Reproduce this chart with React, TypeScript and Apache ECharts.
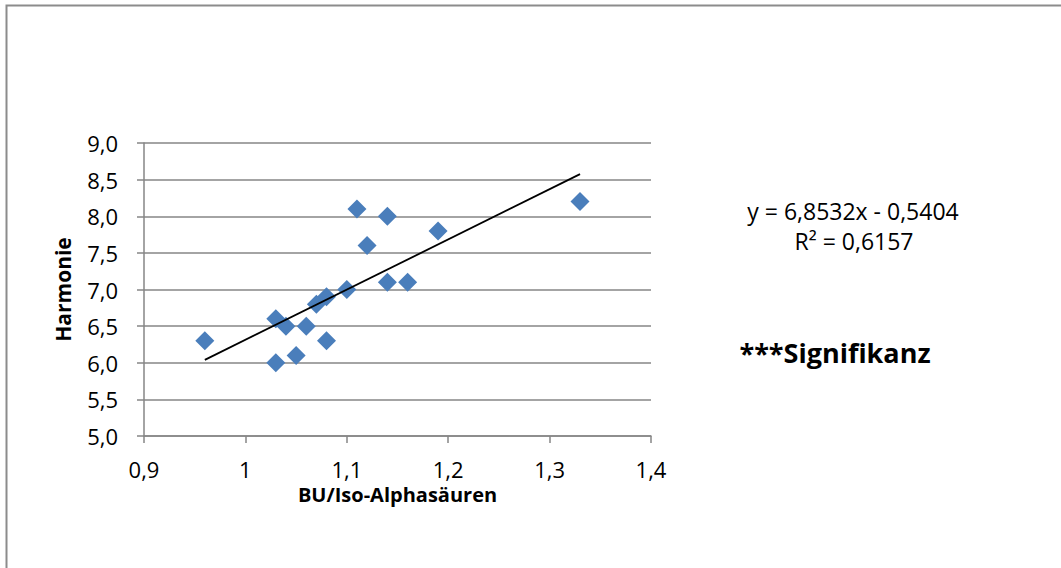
import React, { useEffect, useRef } from "react";
import * as echarts from "echarts";

const buIso: number[] = [0.96, 1.03, 1.04, 1.03, 1.05, 1.06, 1.07, 1.08, 1.08, 1.1, 1.11, 1.12, 1.14, 1.14, 1.16, 1.19, 1.33];
const harmonie: number[] = [6.3, 6.6, 6.5, 6.0, 6.1, 6.5, 6.8, 6.9, 6.3, 7.0, 8.1, 7.6, 8.0, 7.1, 7.1, 7.8, 8.2];
const slope = 6.8532;
const intercept = -0.5404;
const trendX: number[] = [0.96, 1.33];
const equationText = "y = 6,8532x - 0,5404";
const r2Text = "R² = 0,6157";
const noteText = "***Signifikanz";
const xTitle = "BU/Iso-Alphasäuren";
const yTitle = "Harmonie";

const FONT = "'Open Sans', 'Noto Sans', sans-serif";

export default function App() {
  const ref = useRef<HTMLDivElement>(null);
  useEffect(() => {
    document.body.style.margin = "0";
    const chart = echarts.init(ref.current!, null, { renderer: "svg" });
    const points = buIso.map((x, i) => [x, harmonie[i]]);
    const trend = trendX.map((x) => [x, slope * x + intercept]);
    chart.setOption({
      animation: false,
      backgroundColor: "#ffffff",
      textStyle: { fontFamily: FONT },
      grid: { left: 144, top: 143, right: 410, bottom: 132 },
      xAxis: {
        type: "value",
        min: 0.9,
        max: 1.4,
        interval: 0.1,
        name: xTitle,
        nameLocation: "middle",
        nameGap: 46,
        nameTextStyle: { fontFamily: FONT, fontSize: 20, fontWeight: "bold", color: "#000" },
        axisLine: { show: true, lineStyle: { color: "#868686", width: 1.5 } },
        axisTick: { show: true, length: 7, lineStyle: { color: "#868686", width: 1.5 } },
        axisLabel: {
          color: "#000",
          fontSize: 22,
          fontFamily: FONT,
          margin: 22,
          formatter: (v: number) => String(Math.round(v * 10) / 10).replace(".", ","),
        },
        splitLine: { show: false },
      },
      yAxis: {
        type: "value",
        min: 5,
        max: 9,
        interval: 0.5,
        name: yTitle,
        nameLocation: "middle",
        nameGap: 71,
        nameRotate: 90,
        nameTextStyle: { fontFamily: FONT, fontSize: 21, fontWeight: "bold", color: "#000" },
        axisLine: { show: true, lineStyle: { color: "#868686", width: 1.5 } },
        axisTick: { show: true, length: 7, lineStyle: { color: "#868686", width: 1.5 } },
        axisLabel: {
          color: "#000",
          fontSize: 22,
          fontFamily: FONT,
          margin: 26,
          formatter: (v: number) => v.toFixed(1).replace(".", ","),
        },
        splitLine: { show: true, lineStyle: { color: "#868686", width: 1.5 } },
      },
      series: [
        {
          type: "line",
          data: trend,
          symbol: "none",
          lineStyle: { color: "#000", width: 1.8 },
          z: 3,
        },
        {
          type: "scatter",
          data: points,
          symbol: "diamond",
          symbolSize: 19,
          itemStyle: { color: "#4a7ebb", opacity: 1 },
          z: 2,
        },
      ],
      graphic: [
        {
          type: "rect",
          shape: { x: 6.5, y: 5.5, width: 1200, height: 800 },
          style: { fill: "none", stroke: "#8c8c8c", lineWidth: 2 },
          z: 100,
        },
        {
          type: "text",
          x: 853,
          y: 211,
          style: { text: equationText, fontFamily: FONT, fontSize: 23, fill: "#000", textAlign: "center", textVerticalAlign: "middle" },
        },
        {
          type: "text",
          x: 854,
          y: 241,
          style: { text: r2Text, fontFamily: FONT, fontSize: 23, fill: "#000", textAlign: "center", textVerticalAlign: "middle" },
        },
        {
          type: "text",
          x: 835,
          y: 352,
          style: { text: noteText, fontFamily: FONT, fontSize: 27, fontWeight: "bold", fill: "#000", textAlign: "center", textVerticalAlign: "middle" },
        },
      ],
    });
    return () => chart.dispose();
  }, []);
  return <div ref={ref} style={{ position: "absolute", left: 0, top: 0, width: 1061, height: 568 }} />;
}
